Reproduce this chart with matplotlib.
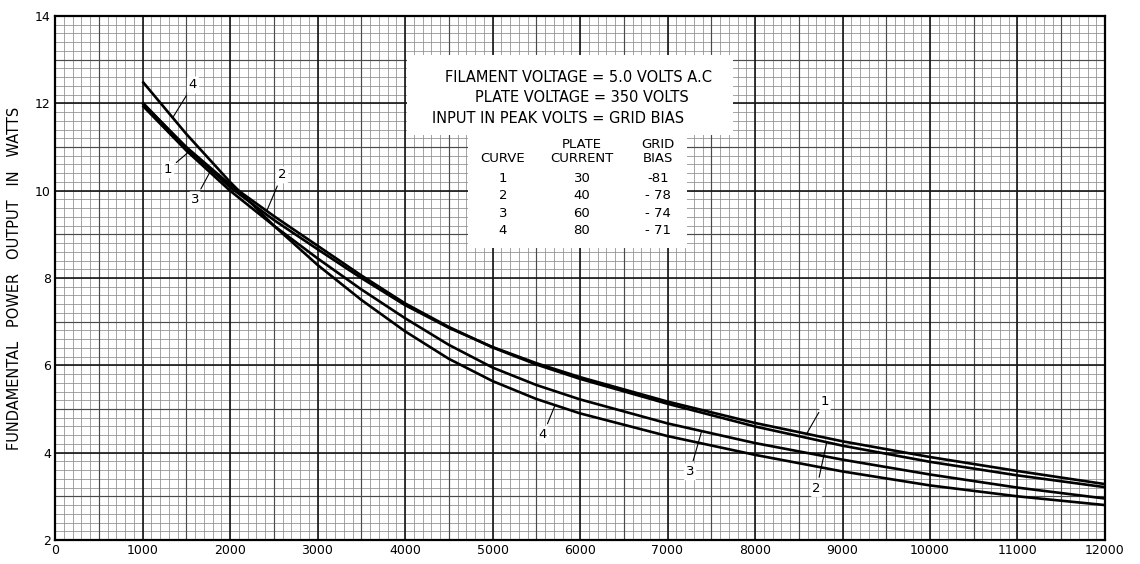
import numpy as np
import matplotlib
matplotlib.use("Agg")
import matplotlib.pyplot as plt
from matplotlib.patches import Rectangle

# load resistance (ohms) where the curves were read
load_ohms = [1000, 1500, 2000, 2500, 3000, 3500, 4000, 4500, 5000, 5500,
             6000, 7000, 8000, 9000, 10000, 11000, 12000]

# fundamental power output in watts, one list per curve
curve_1 = [12.02, 10.98, 10.08, 9.33, 8.66, 8.00, 7.38, 6.86, 6.42, 6.05,
           5.73, 5.17, 4.68, 4.26, 3.90, 3.58, 3.28]
curve_2 = [12.00, 11.00, 10.14, 9.42, 8.74, 8.06, 7.42, 6.88, 6.41, 6.02,
           5.69, 5.12, 4.60, 4.16, 3.79, 3.48, 3.21]
curve_3 = [11.95, 10.92, 10.00, 9.20, 8.45, 7.74, 7.08, 6.47, 5.95, 5.55,
           5.22, 4.67, 4.22, 3.84, 3.50, 3.20, 2.95]
curve_4 = [12.50, 11.30, 10.20, 9.20, 8.30, 7.50, 6.78, 6.15, 5.64, 5.23,
           4.90, 4.38, 3.95, 3.57, 3.25, 3.00, 2.80]

# conditions table
curve_ids = ["1", "2", "3", "4"]
plate_current = ["30", "40", "60", "80"]
grid_bias = ["-81", "- 78", "- 74", "- 71"]

header_lines = ["FILAMENT VOLTAGE = 5.0 VOLTS A.C",
                "PLATE VOLTAGE = 350 VOLTS",
                "INPUT IN PEAK VOLTS = GRID BIAS"]

x_ticks = list(range(0, 13000, 1000))
y_ticks = [2, 4, 6, 8, 10, 12, 14]

fig = plt.figure(figsize=(11.4, 5.64), dpi=100)
ax = fig.add_axes([55 / 1140, 24 / 564, 1050 / 1140, 524 / 564])

ax.set_xlim(0, 12000)
ax.set_ylim(2, 14)

# --- graph paper ---
ax.vlines(np.arange(100, 12000, 100), 2, 14, color="#8c8c8c", lw=0.55, zorder=0)
ax.hlines(np.arange(2.2, 14, 0.2), 0, 12000, color="#8c8c8c", lw=0.55, zorder=0)
ax.vlines(np.arange(500, 12000, 1000), 2, 14, color="#4a4a4a", lw=0.85, zorder=0)
ax.hlines(np.arange(3, 14, 2), 0, 12000, color="#4a4a4a", lw=0.85, zorder=0)
ax.vlines(x_ticks[1:-1], 2, 14, color="#151515", lw=1.2, zorder=0)
ax.hlines(y_ticks[1:-1], 0, 12000, color="#151515", lw=1.2, zorder=0)

for s in ax.spines.values():
    s.set_linewidth(1.6)
    s.set_color("black")

ax.set_xticks(x_ticks)
ax.set_xticklabels([str(t) for t in x_ticks])
ax.set_yticks(y_ticks)
ax.tick_params(length=0, labelsize=9, pad=3)
ax.set_ylabel("FUNDAMENTAL   POWER   OUTPUT   IN   WATTS", fontsize=10.5,
              labelpad=9)

# --- curves ---
curves = [curve_1, curve_2, curve_3, curve_4]
for c in curves:
    ax.plot(load_ohms, c, color="black", lw=1.9, zorder=3,
            solid_capstyle="butt")

# --- curve labels with leader lines (label, curve index, x on curve, text pos) ---
labels = [
    ("4", 3, 1345, (1577, 12.42)),
    ("1", 0, 1540, (1291, 10.48)),
    ("3", 2, 1770, (1600, 9.79)),
    ("2", 1, 2420, (2594, 10.36)),
    ("4", 3, 5715, (5577, 4.41)),
    ("3", 2, 7390, (7257, 3.56)),
    ("1", 0, 8590, (8800, 5.17)),
    ("2", 1, 8820, (8705, 3.18)),
]
for txt, idx, xp, xytext in labels:
    yp = np.interp(xp, load_ohms, curves[idx])
    ax.annotate(txt, xy=(xp, yp), xytext=xytext, fontsize=9.5,
                ha="center", va="center", zorder=5,
                bbox=dict(boxstyle="round,pad=0.15", fc="white", ec="none"),
                arrowprops=dict(arrowstyle="-", lw=0.8, color="black",
                                shrinkA=2, shrinkB=0))

# --- conditions box ---
ax.add_patch(Rectangle((0.335, 0.773), 0.311, 0.153, transform=ax.transAxes,
                       fc="white", ec="none", zorder=4))
ax.add_patch(Rectangle((0.393, 0.557), 0.209, 0.218, transform=ax.transAxes,
                       fc="white", ec="none", zorder=4))

header_pos = [(0.499, 0.882), (0.502, 0.844), (0.479, 0.805)]
for line, (fx, fy) in zip(header_lines, header_pos):
    ax.text(fx, fy, line, transform=ax.transAxes, fontsize=10.5,
            ha="center", va="center", zorder=6)

col_x = [0.4267, 0.5019, 0.5743]
ax.text(col_x[1], 0.7557, "PLATE", transform=ax.transAxes, fontsize=9.5,
        ha="center", va="center", zorder=6)
ax.text(col_x[2], 0.7557, "GRID", transform=ax.transAxes, fontsize=9.5,
        ha="center", va="center", zorder=6)
for fx, h in zip(col_x, ["CURVE", "CURRENT", "BIAS"]):
    ax.text(fx, 0.7271, h, transform=ax.transAxes, fontsize=9.5,
            ha="center", va="center", zorder=6)

row_y = [0.6908, 0.6565, 0.6240, 0.5897]
for fy, cid, pc, gb in zip(row_y, curve_ids, plate_current, grid_bias):
    for fx, val in zip(col_x, [cid, pc, gb]):
        ax.text(fx, fy, val, transform=ax.transAxes, fontsize=9.5,
                ha="center", va="center", zorder=6)

fig.savefig("out.png", dpi=100)
